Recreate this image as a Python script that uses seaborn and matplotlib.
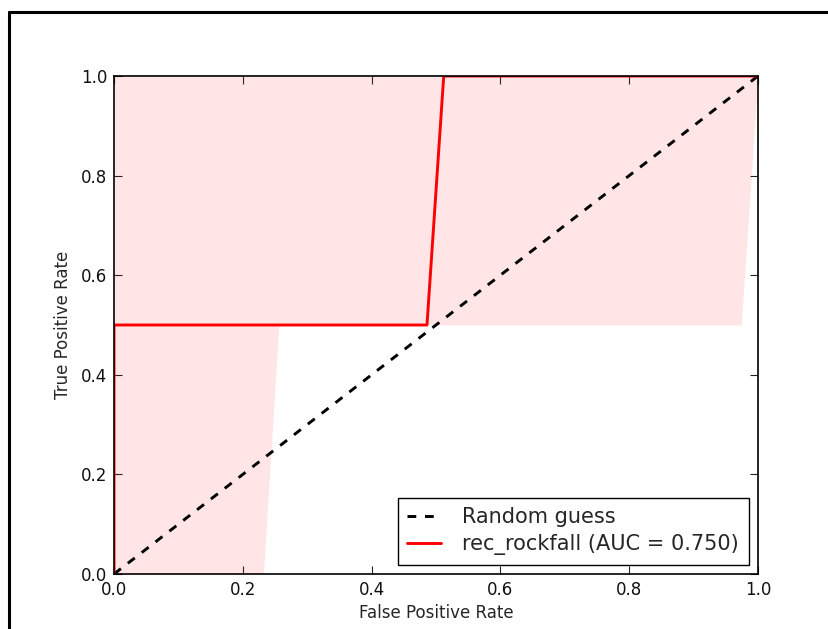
import matplotlib
matplotlib.use("Agg")
import matplotlib.pyplot as plt
import seaborn as sns
import pandas as pd
from matplotlib.lines import Line2D

# Data
fpr = [0.0, 0.0, 0.486, 0.512, 1.0]
tpr = [0.0, 0.5, 0.5, 1.0, 1.0]
band_x = [0.0, 0.232, 0.256, 0.974, 1.0]
band_lower = [0.0, 0.0, 0.5, 0.5, 1.0]
band_upper = [1.0, 1.0, 1.0, 1.0, 1.0]
diag_x = [0.0, 1.0]
diag_y = [0.0, 1.0]
ticks = [0.0, 0.2, 0.4, 0.6, 0.8, 1.0]
tick_labels = ["0.0", "0.2", "0.4", "0.6", "0.8", "1.0"]
auc_label = "rec_rockfall (AUC = 0.750)"

sns.set_style("ticks")
plt.rcParams['font.family'] = ['DejaVu Sans']

fig = plt.figure(figsize=(8.29, 6.29), dpi=100)
ax = fig.add_axes([114/829, 1-574/629, (758-114)/829, (574-76)/629])

ax.fill_between(band_x, band_lower, band_upper, color='red', alpha=0.1, linewidth=0)

diag = pd.DataFrame({"x": diag_x, "y": diag_y})
roc = pd.DataFrame({"x": fpr, "y": tpr})
sns.lineplot(data=diag, x="x", y="y", ax=ax, color='black', linewidth=2.1,
             linestyle=(0, (3, 3)), label="Random guess", sort=False,
             estimator=None)
sns.lineplot(data=roc, x="x", y="y", ax=ax, color='red', linewidth=2.1,
             label=auc_label, sort=False, estimator=None)

ax.set_xlim(0, 1)
ax.set_ylim(0, 1)
ax.set_xticks(ticks)
ax.set_xticklabels(tick_labels)
ax.set_yticks(ticks)
ax.set_yticklabels(tick_labels)
ax.tick_params(direction='in', top=True, right=True, length=6, width=0.8,
               labelsize=12, colors='#222222', labelcolor='#111111', pad=5)
for s in ax.spines.values():
    s.set_color('black')
    s.set_linewidth(1.2)
ax.set_xlabel("False Positive Rate", fontsize=12, labelpad=4)
ax.set_ylabel("True Positive Rate", fontsize=12, labelpad=6)

leg = ax.legend(loc='lower right', fontsize=15, frameon=True, fancybox=False,
                edgecolor='black', framealpha=1, borderpad=0.45,
                handlelength=1.6, handletextpad=1.05, borderaxespad=0.45,
                labelspacing=0.35)
leg.get_frame().set_linewidth(1.0)

# image frame (left and top border)
fig.add_artist(Line2D([9/829, 9/829], [0, 1-12/629], color='black', lw=2.2,
                      transform=fig.transFigure))
fig.add_artist(Line2D([9/829, 1], [1-12/629, 1-12/629], color='black', lw=2.2,
                      transform=fig.transFigure))

fig.savefig("out.png", dpi=100)
